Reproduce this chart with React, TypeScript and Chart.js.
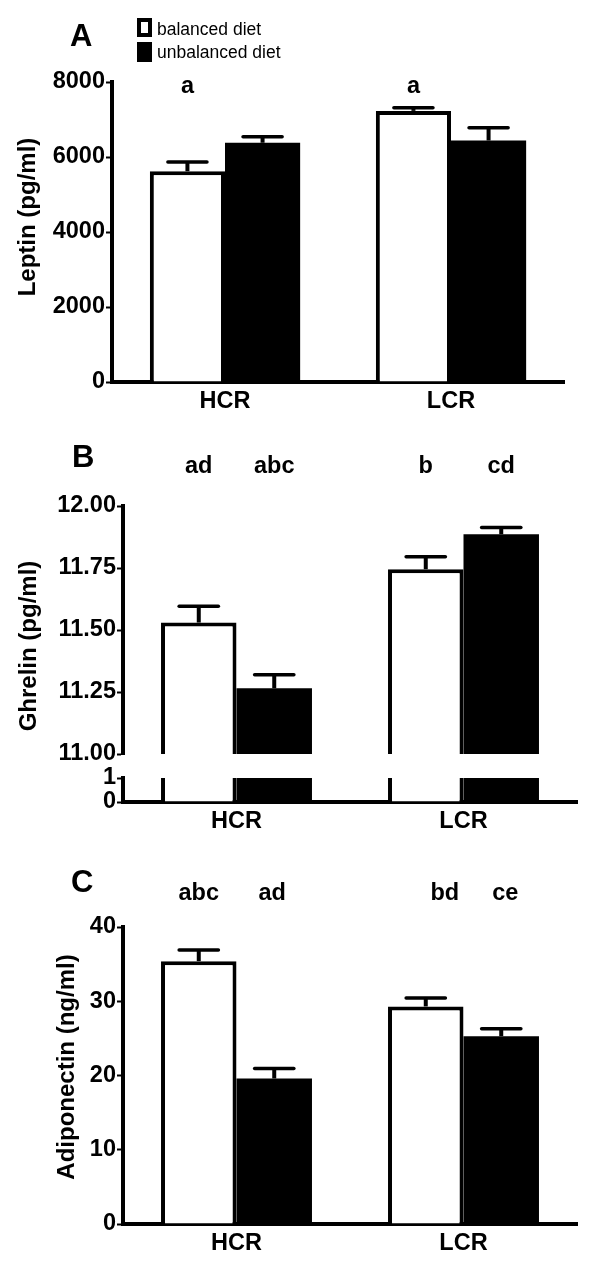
import React, { useEffect, useRef } from "react";
import { Chart, registerables } from "chart.js";

Chart.register(...registerables);

// ---------------- data ----------------
const categories = ["HCR", "LCR"];
const seriesNames = ["balanced diet", "unbalanced diet"];

const leptinBalanced = [5620, 7230];
const leptinBalancedSem = [250, 85];
const leptinUnbalanced = [6380, 6440];
const leptinUnbalancedSem = [160, 340];
const leptinTicks = [0, 2000, 4000, 6000, 8000];
const leptinLettersBalanced = ["a", "a"];
const leptinLettersUnbalanced = ["", ""];

const ghrelinBalanced = [11.53, 11.745];
const ghrelinBalancedSem = [0.066, 0.05];
const ghrelinUnbalanced = [11.265, 11.886];
const ghrelinUnbalancedSem = [0.055, 0.027];
const ghrelinUpperTicks = [11.0, 11.25, 11.5, 11.75, 12.0];
const ghrelinLowerTicks = [0, 1];
const ghrelinLettersBalanced = ["ad", "b"];
const ghrelinLettersUnbalanced = ["abc", "cd"];

const adipoBalanced = [35.4, 29.3];
const adipoBalancedSem = [1.5, 1.15];
const adipoUnbalanced = [19.6, 25.3];
const adipoUnbalancedSem = [1.35, 1.0];
const adipoTicks = [0, 10, 20, 30, 40];
const adipoLettersBalanced = ["abc", "bd"];
const adipoLettersUnbalanced = ["ad", "ce"];

// ---------------- styling ----------------
const FONT = "'Liberation Sans', Arial, Helvetica, sans-serif";
const TICK_SIZE = 23.5;
const LINE = 4;

type Panel = {
  top: number;
  height: number;
  balanced: number[];
  unbalanced: number[];
  balancedSem?: number[];
  unbalancedSem?: number[];
  min: number;
  max: number;
  ticks: number[];
  decimals: number;
  yWidth: number;
  padTop: number;
  padRight: number;
  padBottom: number;
  showX: boolean;
  xHeight: number;
  clip: boolean;
  letters?: { b: string[]; u: string[]; dy: number; dxB?: number[]; dxU?: number[] };
  panelLetter?: { text: string; x: number; y: number };
  yTitle?: { text: string; x: number; y: number };
  legend?: boolean;
};

function makeOverlay(p: Panel) {
  return {
    id: "overlay",
    afterDatasetsDraw(chart: any) {
      const ctx = chart.ctx as CanvasRenderingContext2D;
      const ys = chart.scales.y;
      const sems = [p.balancedSem, p.unbalancedSem];
      sems.forEach((sem, d) => {
        if (!sem) return;
        const meta = chart.getDatasetMeta(d);
        const vals = chart.data.datasets[d].data as number[];
        meta.data.forEach((bar: any, i: number) => {
          const v = vals[i];
          const y0 = ys.getPixelForValue(v);
          const y1 = ys.getPixelForValue(v + sem[i]);
          const half = bar.width * 0.26;
          ctx.save();
          ctx.strokeStyle = "#000";
          ctx.lineWidth = LINE;
          ctx.lineCap = "butt";
          ctx.beginPath();
          ctx.moveTo(bar.x, y0);
          ctx.lineTo(bar.x, y1);
          ctx.stroke();
          ctx.lineCap = "round";
          ctx.lineWidth = 3.5;
          ctx.beginPath();
          ctx.moveTo(bar.x - half, y1);
          ctx.lineTo(bar.x + half, y1);
          ctx.stroke();
          ctx.restore();
        });
      });
    },
    afterDraw(chart: any) {
      const ctx = chart.ctx as CanvasRenderingContext2D;
      const area = chart.chartArea;
      ctx.save();
      ctx.fillStyle = "#000";
      // significance letters
      if (p.letters) {
        const L = p.letters;
        ctx.font = `bold ${TICK_SIZE}px ${FONT}`;
        ctx.textAlign = "center";
        ctx.textBaseline = "alphabetic";
        [L.b, L.u].forEach((arr, d) => {
          const dx = d === 0 ? L.dxB : L.dxU;
          const meta = chart.getDatasetMeta(d);
          meta.data.forEach((bar: any, i: number) => {
            if (!arr[i]) return;
            ctx.fillText(arr[i], bar.x + (dx ? dx[i] : 0), area.top + L.dy);
          });
        });
      }
      // panel letter
      if (p.panelLetter) {
        ctx.font = `bold 31px ${FONT}`;
        ctx.textAlign = "left";
        ctx.textBaseline = "alphabetic";
        ctx.fillText(p.panelLetter.text, p.panelLetter.x, p.panelLetter.y);
      }
      // y-axis title
      if (p.yTitle) {
        ctx.save();
        ctx.font = `bold 24px ${FONT}`;
        ctx.textAlign = "center";
        ctx.textBaseline = "middle";
        ctx.translate(p.yTitle.x, p.yTitle.y);
        ctx.rotate(-Math.PI / 2);
        ctx.fillText(p.yTitle.text, 0, 0);
        ctx.restore();
      }
      // legend
      if (p.legend) {
        const labels = chart.data.datasets.map((ds: any) => ds.label);
        const rows = [
          { y: 18, h: 19, base: 35 },
          { y: 42, h: 20, base: 58 },
        ];
        labels.forEach((lab: string, d: number) => {
          const r = rows[d];
          ctx.fillStyle = "#000";
          ctx.fillRect(137, r.y, 15, r.h);
          if (d === 0) {
            ctx.fillStyle = "#fff";
            ctx.fillRect(141, r.y + 4, 7, r.h - 8);
          }
          ctx.fillStyle = "#000";
          ctx.font = `17.5px ${FONT}`;
          ctx.textAlign = "left";
          ctx.textBaseline = "alphabetic";
          ctx.fillText(lab, 157, r.base);
        });
      }
      ctx.restore();
    },
  };
}

function buildChart(canvas: HTMLCanvasElement, p: Panel) {
  const clip = p.clip ? { left: 10, right: 10, top: 0, bottom: 0 } : undefined;
  return new Chart(canvas, {
    type: "bar",
    data: {
      labels: categories,
      datasets: [
        {
          label: seriesNames[0],
          data: p.balanced,
          backgroundColor: "#fff",
          borderColor: "#000",
          borderWidth: LINE,
          borderSkipped: "start",
          categoryPercentage: 0.665,
          barPercentage: 1,
          clip: clip as any,
        },
        {
          label: seriesNames[1],
          data: p.unbalanced,
          backgroundColor: "#000",
          borderColor: "#000",
          borderWidth: 0,
          categoryPercentage: 0.665,
          barPercentage: 1,
          clip: clip as any,
        },
      ],
    },
    options: {
      responsive: false,
      animation: false,
      devicePixelRatio: 1,
      events: [],
      layout: {
        autoPadding: false,
        padding: { top: p.padTop, right: p.padRight, bottom: p.padBottom, left: 0 },
      },
      plugins: {
        legend: { display: false },
        tooltip: { enabled: false },
        title: { display: false },
      },
      scales: {
        x: {
          type: "category",
          display: p.showX,
          offset: true,
          grid: { display: false, drawTicks: false, tickLength: 0 },
          border: { display: true, color: "#000", width: LINE },
          ticks: {
            color: "#000",
            padding: 5,
            font: { family: FONT, size: TICK_SIZE, weight: "bold" },
          },
          afterFit: (scale: any) => {
            scale.height = p.xHeight;
          },
        },
        y: {
          type: "linear",
          min: p.min,
          max: p.max,
          grid: {
            display: true,
            drawOnChartArea: false,
            drawTicks: true,
            tickLength: 6,
            tickWidth: 2,
            color: "#000",
          },
          border: { display: true, color: "#000", width: LINE },
          ticks: {
            color: "#000",
            padding: 1,
            autoSkip: false,
            font: { family: FONT, size: TICK_SIZE, weight: "bold" },
            callback: (v: any) => Number(v).toFixed(p.decimals),
          },
          afterBuildTicks: (scale: any) => {
            scale.ticks = p.ticks.map((v) => ({ value: v }));
          },
          afterFit: (scale: any) => {
            scale.width = p.yWidth;
          },
        },
      },
    },
    plugins: [makeOverlay(p)],
  } as any);
}

const panels: Panel[] = [
  {
    top: 0,
    height: 415,
    balanced: leptinBalanced,
    unbalanced: leptinUnbalanced,
    balancedSem: leptinBalancedSem,
    unbalancedSem: leptinUnbalancedSem,
    min: 0,
    max: 8000,
    ticks: leptinTicks,
    decimals: 0,
    yWidth: 112,
    padTop: 82,
    padRight: 36,
    padBottom: 0,
    showX: true,
    xHeight: 33,
    clip: false,
    letters: { b: leptinLettersBalanced, u: leptinLettersUnbalanced, dy: 11 },
    panelLetter: { text: "A", x: 70, y: 46 },
    yTitle: { text: "Leptin (pg/ml)", x: 28, y: 217 },
    legend: true,
  },
  {
    top: 415,
    height: 360,
    balanced: ghrelinBalanced,
    unbalanced: ghrelinUnbalanced,
    balancedSem: ghrelinBalancedSem,
    unbalancedSem: ghrelinUnbalancedSem,
    min: 11,
    max: 12,
    ticks: ghrelinUpperTicks,
    decimals: 2,
    yWidth: 123,
    padTop: 91,
    padRight: 23,
    padBottom: 21,
    showX: false,
    xHeight: 0,
    clip: false,
    letters: { b: ghrelinLettersBalanced, u: ghrelinLettersUnbalanced, dy: -33 },
    panelLetter: { text: "B", x: 72, y: 52 },
    yTitle: { text: "Ghrelin (pg/ml)", x: 29, y: 231 },
  },
  {
    top: 760,
    height: 70,
    balanced: ghrelinBalanced,
    unbalanced: ghrelinUnbalanced,
    min: 0,
    max: 1,
    ticks: ghrelinLowerTicks,
    decimals: 0,
    yWidth: 123,
    padTop: 18,
    padRight: 23,
    padBottom: 0,
    showX: true,
    xHeight: 28,
    clip: true,
  },
  {
    top: 830,
    height: 439,
    balanced: adipoBalanced,
    unbalanced: adipoUnbalanced,
    balancedSem: adipoBalancedSem,
    unbalancedSem: adipoUnbalancedSem,
    min: 0,
    max: 40,
    ticks: adipoTicks,
    decimals: 0,
    yWidth: 123,
    padTop: 97,
    padRight: 23,
    padBottom: 0,
    showX: true,
    xHeight: 45,
    clip: false,
    letters: {
      b: adipoLettersBalanced,
      u: adipoLettersUnbalanced,
      dy: -27,
      dxB: [0, 19],
      dxU: [-2, 4],
    },
    panelLetter: { text: "C", x: 71, y: 62 },
    yTitle: { text: "Adiponectin (ng/ml)", x: 67, y: 237 },
  },
];

export default function App() {
  const refs = useRef<(HTMLCanvasElement | null)[]>([]);

  useEffect(() => {
    const charts = panels.map((p, i) => buildChart(refs.current[i] as HTMLCanvasElement, p));
    return () => charts.forEach((c) => c.destroy());
  }, []);

  return (
    <div
      style={{
        position: "absolute",
        left: 0,
        top: 0,
        width: 600,
        height: 1269,
        background: "#fff",
        overflow: "hidden",
      }}
    >
      {panels.map((p, i) => (
        <canvas
          key={i}
          ref={(el) => {
            refs.current[i] = el;
          }}
          width={600}
          height={p.height}
          style={{ position: "absolute", left: 0, top: p.top, width: 600, height: p.height }}
        />
      ))}
    </div>
  );
}
